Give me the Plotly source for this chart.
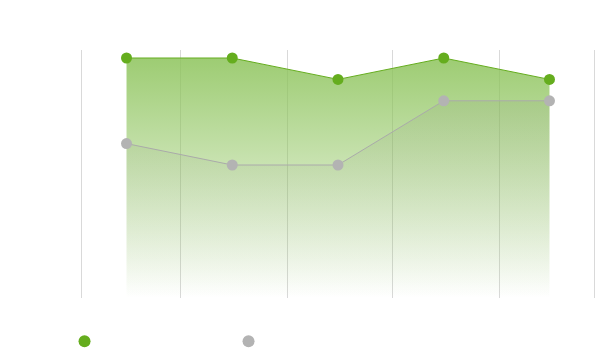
import plotly.graph_objects as go

categories = [0, 1, 2, 3, 4]
series_a = [9, 9, 8, 9, 8]   # green
series_b = [5, 4, 4, 7, 7]   # gray
names = ["Series A", "Series B"]

Y_MIN, Y_MAX = -2.215, 9.374
X_RANGE = [-0.44, 4.44]
grid_vals = [-0.425, 0.51, 1.52, 2.52, 3.53, 4.43]

GREEN = "#65ad1e"
GRAY = "#b3b3b3"
base = [Y_MIN] * len(categories)

fig = go.Figure()

# green area
fig.add_trace(go.Scatter(x=categories, y=base, mode="lines", line=dict(width=0),
                         showlegend=False, hoverinfo="skip"))
fig.add_trace(go.Scatter(
    x=categories, y=series_a, mode="lines+markers", fill="tonexty",
    fillgradient=dict(type="vertical", start=Y_MIN, stop=max(series_a),
                      colorscale=[[0, "rgba(140,195,90,0)"], [1, "rgba(140,195,90,0.85)"]]),
    line=dict(color=GREEN, width=1), marker=dict(color=GREEN, size=11),
    showlegend=False))

# gray area
fig.add_trace(go.Scatter(x=categories, y=base, mode="lines", line=dict(width=0),
                         showlegend=False, hoverinfo="skip"))
fig.add_trace(go.Scatter(
    x=categories, y=series_b, mode="lines+markers", fill="tonexty",
    fillgradient=dict(type="vertical", start=Y_MIN, stop=max(series_b),
                      colorscale=[[0, "rgba(130,145,115,0)"], [1, "rgba(130,145,115,0.15)"]]),
    line=dict(color="#aaaaaa", width=1), marker=dict(color=GRAY, size=11),
    showlegend=False))

# legend entries
for nm, col in zip(names, [GREEN, GRAY]):
    fig.add_trace(go.Scatter(x=[None], y=[None], mode="markers", name=nm,
                             marker=dict(color=col, size=11)))

fig.update_layout(
    width=597, height=353,
    margin=dict(l=80, r=1, t=50, b=55, autoexpand=False),
    paper_bgcolor="white", plot_bgcolor="white",
    xaxis=dict(range=X_RANGE, tickvals=grid_vals, showticklabels=False, ticks="",
               showgrid=True, gridcolor="#d9d9d9", gridwidth=1, zeroline=False,
               showline=False, fixedrange=True),
    yaxis=dict(range=[Y_MIN, Y_MAX], showgrid=False, showticklabels=False, ticks="",
               zeroline=False, showline=False),
    legend=dict(orientation="h", x=-0.03, xanchor="left", y=-0.116, yanchor="top",
                traceorder="normal",
                entrywidth=119, entrywidthmode="pixels",
                font=dict(color="#ffffff", size=12), itemsizing="constant"),
    showlegend=True,
)

fig.write_html("out.html")
